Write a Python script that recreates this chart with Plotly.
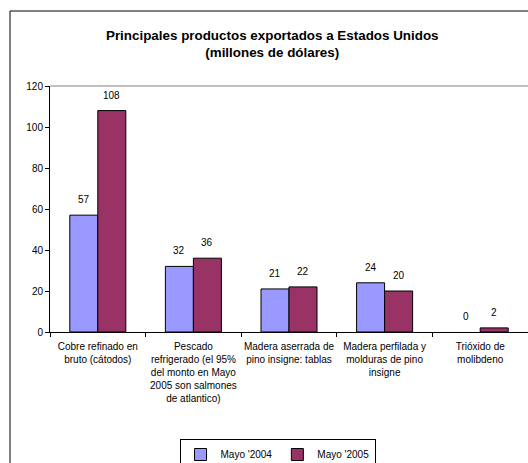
import plotly.graph_objects as go

categories = [
    "Cobre refinado en<br>bruto (cátodos)",
    "Pescado<br>refrigerado (el 95%<br>del monto en Mayo<br>2005 son salmones<br>de atlantico)",
    "Madera aserrada de<br>pino insigne: tablas",
    "Madera perfilada y<br>molduras de pino<br>insigne",
    "Trióxido de<br>molibdeno",
]
series_names = ["Mayo '2004", "Mayo '2005"]
values_2004 = [57, 32, 21, 24, 0]
values_2005 = [108, 36, 22, 20, 2]
y_ticks = [0, 20, 40, 60, 80, 100, 120]

FONT = "Arial, Liberation Sans, sans-serif"
colors = ["#9999FF", "#993366"]

fig = go.Figure()
for name, vals, col in zip(series_names, [values_2004, values_2005], colors):
    fig.add_trace(go.Bar(
        x=categories, y=vals, name=name,
        marker=dict(color=col, line=dict(color="black",
                                         width=[1 if v > 0 else 0 for v in vals])),
    ))

annotations = []
for vals, shift in [(values_2004, -14), (values_2005, 14)]:
    for c, v in zip(categories, vals):
        annotations.append(dict(
            x=c, y=v, xref="x", yref="y", text=str(v), showarrow=False,
            xshift=shift, yshift=8, yanchor="bottom",
            font=dict(family=FONT, size=10, color="black"),
        ))

fig.update_layout(
    width=528, height=463,
    margin=dict(l=50, r=0, t=86, b=131, autoexpand=False),
    paper_bgcolor="white", plot_bgcolor="white",
    font=dict(family=FONT, size=10, color="black"),
    barmode="group", bargap=0.414, bargroupgap=0,
    showlegend=True,
    title=dict(
        text="<b>Principales productos exportados a Estados Unidos<br>(millones de dólares)</b>",
        x=0.465, xref="paper", xanchor="center",
        y=(463 - 40) / 463, yref="container", yanchor="top",
        font=dict(family=FONT, size=13.4, color="black"),
    ),
    legend=dict(
        orientation="h", x=0.476, xanchor="center",
        y=(463 - 439) / 463, yref="container", yanchor="top",
        bordercolor="black", borderwidth=1,
        font=dict(family=FONT, size=10, color="black"),
        itemwidth=30,
    ),
    xaxis=dict(
        showline=True, linecolor="black", linewidth=1,
        ticks="outside", ticklen=4, tickcolor="black", tickson="boundaries",
        showgrid=False, tickangle=0, ticklabelstandoff=5,
        tickfont=dict(family=FONT, size=10, color="black"),
    ),
    yaxis=dict(
        range=[0, 120], tickvals=y_ticks,
        showline=True, linecolor="black", linewidth=1,
        ticks="outside", ticklen=4, tickcolor="black",
        showgrid=False, zeroline=False,
        tickfont=dict(family=FONT, size=10, color="black"),
    ),
    annotations=annotations,
    shapes=[
        dict(type="line", xref="paper", yref="y domain", x0=0, x1=1, y0=1, y1=1,
             line=dict(color="#808080", width=1)),
        dict(type="rect", xref="paper", yref="paper",
             x0=(10 - 50) / 478, x1=1.2, y0=-0.6, y1=(332 - 11) / 246,
             line=dict(color="black", width=1), layer="below"),
    ],
)

fig.write_html(
    "out.html",
    config={"displayModeBar": False},
    post_script="document.body.style.margin='0';document.body.style.overflow='hidden';",
)
